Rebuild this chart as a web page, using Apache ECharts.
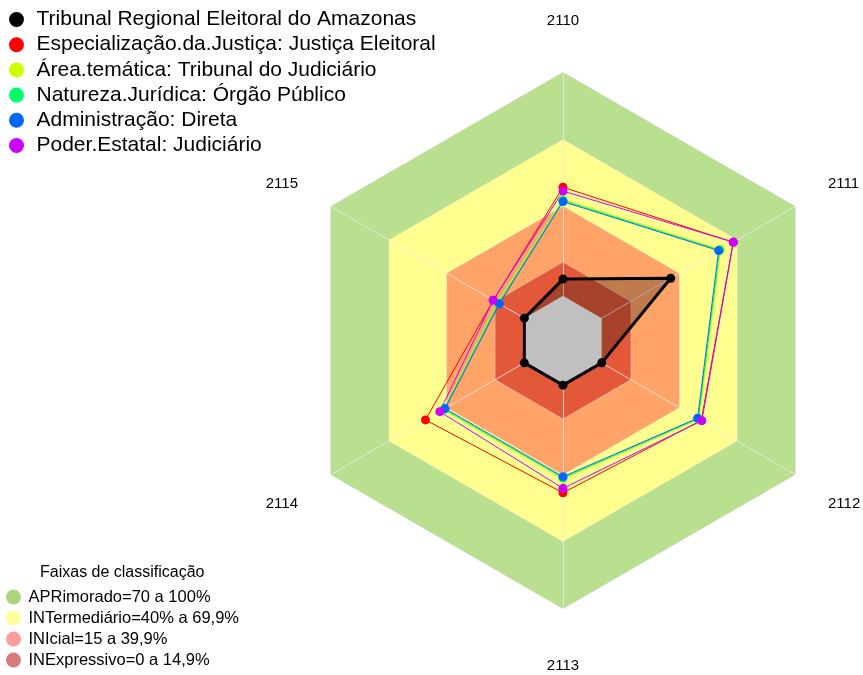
<!DOCTYPE html>
<html><head><meta charset="utf-8">
<script src="https://cdn.jsdelivr.net/npm/echarts@6/dist/echarts.min.js"></script>
<style>html,body{margin:0;padding:0;background:#fff}#c{width:863px;height:675px}</style>
</head><body><div id="c"></div>
<script>
// ---- data ----
const axes = ['2110', '2111', '2112', '2113', '2114', '2115'];
const seriesNames = [
  'Tribunal Regional Eleitoral do Amazonas',
  'Especialização.da.Justiça: Justiça Eleitoral',
  'Área.temática: Tribunal do Judiciário',
  'Natureza.Jurídica: Órgão Público',
  'Administração: Direta',
  'Poder.Estatal: Judiciário'
];
const vTribunal = [7.5, 35.7, 0, 0, 0, 0];
const vEspecializacao = [48.6, 68.0, 51.5, 48.2, 51.1, 16.0];
const vArea = [43.2, 61.5, 50.4, 42.0, 42.0, 13.8];
const vNatureza = [42.7, 61.0, 50.0, 41.5, 41.5, 13.4];
const vAdministracao = [42.2, 60.5, 49.6, 41.0, 41.0, 12.9];
const vPoder = [46.9, 68.1, 51.8, 46.2, 43.7, 16.1];
const bandNames = ['APRimorado=70 a 100%', 'INTermediário=40% a 69,9%', 'INIcial=15 a 39,9%', 'INExpressivo=0 a 14,9%'];
const bandUpper = [100, 70, 40, 15];
const baseValue = 0;
const scaleMin = -20, scaleMax = 100;

// ---- styles ----
const seriesColors = ['#000000', '#FF0000', '#CCFF00', '#00FF66', '#0066FF', '#CC00FF'];
const bandColors = ['#b9e08e', '#ffff8f', '#ffa368', '#e25838'];
const bandLegendColors = ['#acd47c', '#ffff99', '#ff9e9e', '#d77c7c'];
const FONT = 'Liberation Sans, Arial, sans-serif';
// label paddings [top, right, bottom, left] per axis name
const namePad = {
  '2110': [0, 0, 6, 0], '2111': [0, 0, 7, 0], '2112': [21, 0, 0, 0],
  '2113': [12, 0, 0, 0], '2114': [21, 0, 0, 0], '2115': [0, 0, 7, 0]
};

// ECharts radar runs counter-clockwise; reference runs clockwise
const order = [0, 5, 4, 3, 2, 1];
const re = arr => order.map(i => arr[i]);

const allValues = [vTribunal, vEspecializacao, vArea, vNatureza, vAdministracao, vPoder];

const series = [];
bandUpper.forEach((u, i) => {
  series.push({
    type: 'radar', name: bandNames[i], z: 1, silent: true, symbol: 'none',
    lineStyle: { color: '#d6d6d6', width: 1 },
    itemStyle: { color: bandColors[i] },
    areaStyle: { color: bandColors[i], opacity: 1 },
    data: [{ name: bandNames[i], value: re(axes.map(() => u)) }]
  });
});
series.push({
  type: 'radar', name: 'fill', z: 3, silent: true, symbol: 'none',
  lineStyle: { width: 0, opacity: 0 },
  areaStyle: { color: 'rgba(0,0,0,0.25)', opacity: 1 },
  data: [{ name: 'fill', value: re(vTribunal) }]
});
series.push({
  type: 'radar', name: 'core', z: 3, silent: true, symbol: 'none',
  lineStyle: { width: 0, opacity: 0 },
  areaStyle: { color: '#c0c0c0', opacity: 1 },
  data: [{ name: 'core', value: re(axes.map(() => baseValue)) }]
});
allValues.forEach((v, i) => {
  series.push({
    type: 'radar', name: seriesNames[i], z: 4,
    symbol: 'circle', symbolSize: 9,
    lineStyle: { color: seriesColors[i], width: i === 0 ? 3 : 1 },
    itemStyle: { color: seriesColors[i] },
    data: [{ name: seriesNames[i], value: re(v) }]
  });
});

const rich = {};
axes.forEach(a => { rich['l' + a] = { padding: namePad[a], fontSize: 15, fontFamily: FONT, color: '#000' }; });

const chart = echarts.init(document.getElementById('c'), null, { renderer: 'canvas' });
chart.setOption({
  animation: false,
  backgroundColor: '#fff',
  title: {
    text: 'Faixas de classificação', left: 40, top: 565, padding: 0,
    textStyle: { fontFamily: FONT, fontSize: 16, fontWeight: 'normal', color: '#000' }
  },
  legend: [{
    orient: 'vertical', left: 9, top: 9, padding: 0, itemWidth: 30, itemHeight: 15, itemGap: 4.2,
    icon: 'circle', selectedMode: false,
    textStyle: { fontFamily: FONT, fontSize: 21, color: '#000' },
    data: seriesNames
  }, {
    orient: 'vertical', left: 6, top: 588.5, padding: 0, itemWidth: 20, itemHeight: 15, itemGap: 4,
    icon: 'circle', selectedMode: false,
    textStyle: { fontFamily: FONT, fontSize: 16.5, color: '#000' },
    data: bandNames.map((n, i) => ({ name: n, itemStyle: { color: bandLegendColors[i] } }))
  }],
  radar: {
    z: 2,
    center: [563, 340.5], radius: 268, startAngle: 90,
    indicator: re(axes).map(n => ({ name: n, min: scaleMin, max: scaleMax })),
    nameGap: 38,
    axisName: {
      color: '#000', fontFamily: FONT, fontSize: 15,
      formatter: n => '{l' + n + '|' + n + '}', rich: rich
    },
    splitNumber: 5,
    splitLine: { show: false },
    splitArea: { show: false },
    axisLine: { lineStyle: { color: 'rgba(235,235,235,0.8)', width: 1 } },
    axisTick: { show: false },
    axisLabel: { show: false }
  },
  series: series
});
</script></body></html>
